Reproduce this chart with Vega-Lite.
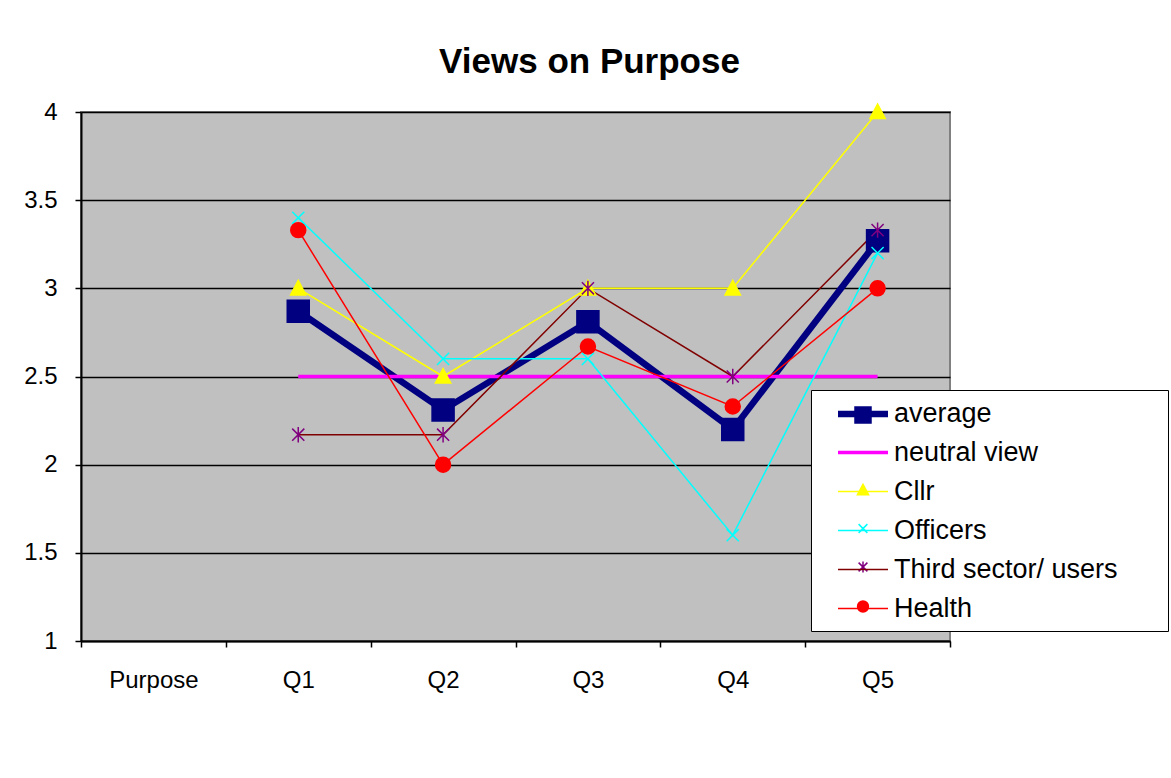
{
  "$schema": "https://vega.github.io/schema/vega-lite/v6.json",
  "width": 869,
  "height": 529,
  "autosize": "none",
  "padding": {"left": 81, "top": 112, "right": 221, "bottom": 137},
  "background": "white",
  "title": {"text": "Views on Purpose", "fontSize": 35, "font": "Liberation Sans", "fontWeight": "bold", "color": "black", "anchor": "middle", "dx": 74, "offset": 36, "dy": 44, "baseline": "alphabetic"},
  "config": {
    "view": {"fill": "#C0C0C0", "stroke": "#808080", "strokeWidth": 2},
    "font": "Liberation Sans"
  },
  "data": {"values": [
    {"q": "Q1", "series": "average", "value": 2.87},
    {"q": "Q2", "series": "average", "value": 2.31},
    {"q": "Q3", "series": "average", "value": 2.81},
    {"q": "Q4", "series": "average", "value": 2.2},
    {"q": "Q5", "series": "average", "value": 3.27},
    {"q": "Q1", "series": "neutral view", "value": 2.5},
    {"q": "Q2", "series": "neutral view", "value": 2.5},
    {"q": "Q3", "series": "neutral view", "value": 2.5},
    {"q": "Q4", "series": "neutral view", "value": 2.5},
    {"q": "Q5", "series": "neutral view", "value": 2.5},
    {"q": "Q1", "series": "Cllr", "value": 3},
    {"q": "Q2", "series": "Cllr", "value": 2.5},
    {"q": "Q3", "series": "Cllr", "value": 3},
    {"q": "Q4", "series": "Cllr", "value": 3},
    {"q": "Q5", "series": "Cllr", "value": 4},
    {"q": "Q1", "series": "Officers", "value": 3.4},
    {"q": "Q2", "series": "Officers", "value": 2.6},
    {"q": "Q3", "series": "Officers", "value": 2.6},
    {"q": "Q4", "series": "Officers", "value": 1.6},
    {"q": "Q5", "series": "Officers", "value": 3.2},
    {"q": "Q1", "series": "Third sector/ users", "value": 2.17},
    {"q": "Q2", "series": "Third sector/ users", "value": 2.17},
    {"q": "Q3", "series": "Third sector/ users", "value": 3},
    {"q": "Q4", "series": "Third sector/ users", "value": 2.5},
    {"q": "Q5", "series": "Third sector/ users", "value": 3.33},
    {"q": "Q1", "series": "Health", "value": 3.33},
    {"q": "Q2", "series": "Health", "value": 2},
    {"q": "Q3", "series": "Health", "value": 2.67},
    {"q": "Q4", "series": "Health", "value": 2.33},
    {"q": "Q5", "series": "Health", "value": 3}
  ]},
  "encoding": {
    "x": {
      "field": "q", "type": "nominal",
      "scale": {"domain": ["Purpose", "Q1", "Q2", "Q3", "Q4", "Q5"], "paddingInner": 0, "paddingOuter": 0},
      "axis": {"title": null, "labelAngle": 0, "labelFontSize": 24, "labelColor": "black", "labelFont": "Liberation Sans", "labelPadding": 21, "domainColor": "black", "domainWidth": 2, "tickColor": "black", "tickSize": 6, "tickWidth": 1.5, "tickBand": "extent", "grid": false}
    },
    "y": {
      "field": "value", "type": "quantitative",
      "scale": {"domain": [1, 4], "nice": false, "zero": false},
      "axis": {"title": null, "values": [1, 1.5, 2, 2.5, 3, 3.5, 4], "format": "~g", "labelFontSize": 24, "labelColor": "black", "labelFont": "Liberation Sans", "labelPadding": 18, "domainColor": "black", "domainWidth": 2, "tickColor": "black", "tickSize": 6, "tickWidth": 1.5, "grid": true, "gridColor": "black", "gridWidth": 1.5, "gridOpacity": 1}
    }
  },
  "layer": [
    {
      "mark": {"type": "line", "strokeJoin": "miter"},
      "encoding": {
        "color": {
          "field": "series", "type": "nominal",
          "scale": {"domain": ["average", "neutral view", "Cllr", "Officers", "Third sector/ users", "Health", " "], "range": ["#000080", "#FF00FF", "#FFFF00", "#00FFFF", "#800000", "#FF0000", "transparent"]},
          "legend": {"orient": "none", "legendX": 730, "legendY": 278, "zindex": 1, "title": null, "symbolType": "M-2,0H2", "symbolSize": 625, "labelFontSize": 27, "labelFont": "Liberation Sans", "labelColor": "black", "labelLimit": 600, "labelExpr": "datum.label === ' ' ? '' : datum.label", "padding": 8, "rowPadding": 11, "labelOffset": 15, "symbolOffset": 28}
        },
        "strokeWidth": {
          "field": "series", "type": "ordinal",
          "scale": {"type": "ordinal", "domain": ["average", "neutral view", "Cllr", "Officers", "Third sector/ users", "Health", " "], "range": [6.5, 3.5, 1.5, 1.5, 1.5, 1.5, 0]},
          "legend": {"orient": "none", "legendX": 730, "legendY": 278, "zindex": 1, "title": null, "symbolType": "M-2,0H2", "symbolSize": 625, "labelFontSize": 27, "labelFont": "Liberation Sans", "labelColor": "black", "labelLimit": 600, "labelExpr": "datum.label === ' ' ? '' : datum.label", "padding": 8, "rowPadding": 11, "labelOffset": 15, "symbolOffset": 28}
        }
      }
    },
    {
      "mark": {"type": "point", "filled": true, "size": 484, "strokeWidth": 1.5, "opacity": 1},
      "encoding": {
        "fill": {
          "field": "series", "type": "nominal",
          "scale": {"domain": ["average", "neutral view", "Cllr", "Officers", "Third sector/ users", "Health"], "range": ["#000080", "#FF00FF", "#FFFF00", "#00FFFF", "#800080", "#FF0000"]},
          "legend": {"orient": "none", "legendX": 730, "legendY": 278, "zindex": 0, "title": null, "symbolSize": 256, "symbolStrokeWidth": 1.5, "labelFontSize": 1, "labelExpr": "''", "fillColor": "white", "strokeColor": "black", "padding": 16, "rowPadding": 21.5, "labelOffset": 280, "symbolOffset": 27}
        },
        "stroke": {
          "field": "series", "type": "nominal",
          "scale": {"domain": ["average", "neutral view", "Cllr", "Officers", "Third sector/ users", "Health"], "range": ["#000080", "#FF00FF", "#FFFF00", "#00FFFF", "#800080", "#FF0000"]},
          "legend": {"orient": "none", "legendX": 730, "legendY": 278, "zindex": 0, "title": null, "symbolSize": 256, "symbolStrokeWidth": 1.5, "labelFontSize": 1, "labelExpr": "''", "fillColor": "white", "strokeColor": "black", "padding": 16, "rowPadding": 21.5, "labelOffset": 280, "symbolOffset": 27}
        },
        "shape": {
          "field": "series", "type": "nominal",
          "scale": {"domain": ["average", "neutral view", "Cllr", "Officers", "Third sector/ users", "Health"], "range": [
            "M-1,-1H1V1H-1Z",
            "M0,0",
            "M0,-0.72L0.7,0.6L-0.7,0.6Z",
            "M-0.55,-0.55L0.55,0.55M-0.55,0.55L0.55,-0.55",
            "M-0.55,-0.55L0.55,0.55M-0.55,0.55L0.55,-0.55M0,-0.7L0,0.7",
            "M0.68,0A0.68,0.68 0 1,1 -0.68,0A0.68,0.68 0 1,1 0.68,0Z"
          ]},
          "legend": {"orient": "none", "legendX": 730, "legendY": 278, "zindex": 0, "title": null, "symbolSize": 256, "symbolStrokeWidth": 1.5, "labelFontSize": 1, "labelExpr": "''", "fillColor": "white", "strokeColor": "black", "padding": 16, "rowPadding": 21.5, "labelOffset": 280, "symbolOffset": 27}
        }
      }
    }
  ]
}
